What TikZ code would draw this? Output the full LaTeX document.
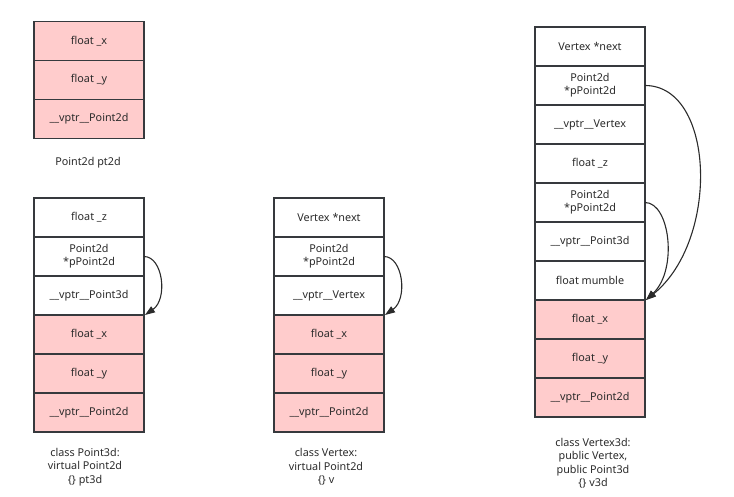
\documentclass[tikz,border=0pt]{standalone}
\usepackage{fontspec}
\setmainfont{Noto Sans}
\usetikzlibrary{arrows.meta,calc}
\definecolor{edge}{HTML}{36393D}
\definecolor{ink}{HTML}{2B2B2B}
\definecolor{pinkfill}{HTML}{FFCCCC}
\begin{document}
\begin{tikzpicture}[x=1pt,y=-1pt,
  cell/.style={draw=edge, line width=1.3pt, fill=white, minimum width=110pt,
    minimum height=39pt, inner sep=0pt, outer sep=0pt, text=ink, align=center,
    font=\fontsize{10.8}{13}\selectfont},
  pcell/.style={cell, fill=pinkfill},
  below/.style={anchor=north},
  caption/.style={text=ink, align=center, font=\fontsize{10.8}{13.5}\selectfont},
  ptr/.style={draw=ink, line width=1.1pt, -{Triangle[length=10pt,width=7pt]}}]
\useasboundingbox (0,0) rectangle (734,497);

% Point2d pt2d
\node[pcell] (a1) at (89,41) {float \_x};
\node[pcell,below] (a2) at (a1.south) {float \_y};
\node[pcell,below] (a3) at (a2.south) {\_\_vptr\_\_Point2d};
\node[caption] (acap) at (88,163) {Point2d pt2d};

% Point3d pt3d
\node[cell] (b1) at (89,217.5) {float \_z};
\node[cell,below] (b2) at (b1.south) {Point2d\\*pPoint2d};
\node[cell,below] (b3) at (b2.south) {\_\_vptr\_\_Point3d};
\node[pcell,below] (b4) at (b3.south) {float \_x};
\node[pcell,below] (b5) at (b4.south) {float \_y};
\node[pcell,below] (b6) at (b5.south) {\_\_vptr\_\_Point2d};
\node[caption] (bcap) at (85,467) {class Point3d:\\virtual Point2d\\\{\} pt3d};
\draw[ptr] (b2.east) .. controls ($(b2.east)+(19,0)$) and ($(b4.north east)+(24,-16)$) .. ($(b4.north east)+(1,0)$);

% Vertex v
\node[cell] (c1) at (329,217.5) {Vertex *next};
\node[cell,below] (c2) at (c1.south) {Point2d\\*pPoint2d};
\node[cell,below] (c3) at (c2.south) {\_\_vptr\_\_Vertex};
\node[pcell,below] (c4) at (c3.south) {float \_x};
\node[pcell,below] (c5) at (c4.south) {float \_y};
\node[pcell,below] (c6) at (c5.south) {\_\_vptr\_\_Point2d};
\node[caption] (ccap) at (326,467) {class Vertex:\\virtual Point2d\\\{\} v};
\draw[ptr] (c2.east) .. controls ($(c2.east)+(19,0)$) and ($(c4.north east)+(24,-16)$) .. ($(c4.north east)+(1,0)$);

% Vertex3d v3d
\node[cell] (d1) at (590,46.5) {Vertex *next};
\node[cell,below] (d2) at (d1.south) {Point2d\\*pPoint2d};
\node[cell,below] (d3) at (d2.south) {\_\_vptr\_\_Vertex};
\node[cell,below] (d4) at (d3.south) {float \_z};
\node[cell,below] (d5) at (d4.south) {Point2d\\*pPoint2d};
\node[cell,below] (d6) at (d5.south) {\_\_vptr\_\_Point3d};
\node[cell,below] (d7) at (d6.south) {float mumble};
\node[pcell,below] (d8) at (d7.south) {float \_x};
\node[pcell,below] (d9) at (d8.south) {float \_y};
\node[pcell,below] (d10) at (d9.south) {\_\_vptr\_\_Point2d};
\node[caption] (dcap) at (593,463) {class Vertex3d:\\public Vertex,\\public Point3d\\\{\} v3d};
\draw[ptr] (d2.east) .. controls ($(d2.east)+(70,0)$) and ($(d8.north east)+(75,-60)$) .. ($(d8.north east)+(1,0)$);
\draw[ptr] (d5.east) .. controls ($(d5.east)+(25,0)$) and ($(d8.north east)+(33,-30)$) .. ($(d8.north east)+(1,0)$);
\end{tikzpicture}
\end{document}
